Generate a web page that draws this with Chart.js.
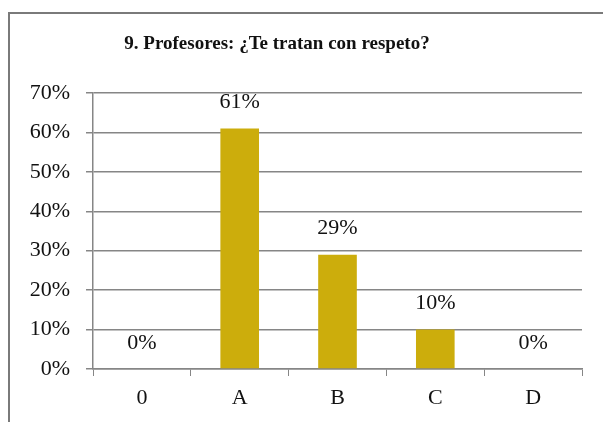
<!DOCTYPE html>
<html>
<head>
<meta charset="utf-8">
<script src="https://cdn.jsdelivr.net/npm/chart.js@4/dist/chart.umd.min.js"></script>
<style>
	body { margin: 0; background: #fff; }
	#wrap { position: relative; width: 603px; height: 422px; overflow: hidden; }
	#frame { position: absolute; left: 8px; top: 12px; width: 640px; height: 460px; border: 2px solid #7a7a7a; box-sizing: border-box; }
	#c { position: absolute; left: 0; top: 0; }
</style>
</head>
<body>
<div id="wrap">
	<div id="frame"></div>
	<canvas id="c" width="603" height="422"></canvas>
</div>
<script>
var categories = ['0', 'A', 'B', 'C', 'D'];
var valores = [0, 61, 29, 10, 0];
var yTicks = [0, 10, 20, 30, 40, 50, 60, 70];
var titulo = '9. Profesores: ¿Te tratan con respeto?';

var fuente = '"Liberation Serif", serif';

// titulo y etiquetas encima de cada barra
var etiquetas = {
	id: 'etiquetas',
	afterDatasetsDraw: function(chart) {
		var ctx = chart.ctx;
		var meta = chart.getDatasetMeta(0);
		ctx.save();
		ctx.fillStyle = '#111';
		ctx.textAlign = 'center';
		ctx.textBaseline = 'middle';
		ctx.font = 'bold 19px ' + fuente;
		ctx.fillText(titulo, 277, 44);
		ctx.font = '22px ' + fuente;
		meta.data.forEach(function(bar, i) {
			ctx.fillText(valores[i] + '%', bar.x, bar.y - 26);
		});
		ctx.restore();
	}
};

var gris = '#868686';

new Chart(document.getElementById('c').getContext('2d'), {
	type: 'bar',
	data: {
		labels: categories,
		datasets: [{
			data: valores,
			backgroundColor: '#CCAD0C',
			borderWidth: 0,
			barPercentage: 0.395,
			categoryPercentage: 1
		}]
	},
	options: {
		responsive: false,
		animation: false,
		layout: { padding: { left: 0, right: 21, top: 93, bottom: 0 } },
		plugins: {
			legend: { display: false },
			tooltip: { enabled: false },
			title: { display: false }
		},
		scales: {
			x: {
				offset: true,
				grid: { display: true, drawOnChartArea: false, drawTicks: true, tickLength: 7, color: gris, lineWidth: 1, offset: true },
				border: { display: true, color: gris, width: 1.5 },
				ticks: { color: '#111', padding: 9, font: { family: fuente, size: 22 } },
				afterFit: function(s) { s.height = 53; }
			},
			y: {
				min: 0,
				max: 70,
				afterBuildTicks: function(s) { s.ticks = yTicks.map(function(v) { return { value: v }; }); },
				grid: { color: gris, lineWidth: 1.5, tickLength: 7 },
				border: { display: true, color: gris, width: 1.5 },
				ticks: {
					color: '#111',
					padding: 16,
					font: { family: fuente, size: 22 },
					callback: function(v) { return v + '%'; }
				},
				afterFit: function(s) { s.width = 93; }
			}
		}
	},
	plugins: [etiquetas]
});
</script>
</body>
</html>
